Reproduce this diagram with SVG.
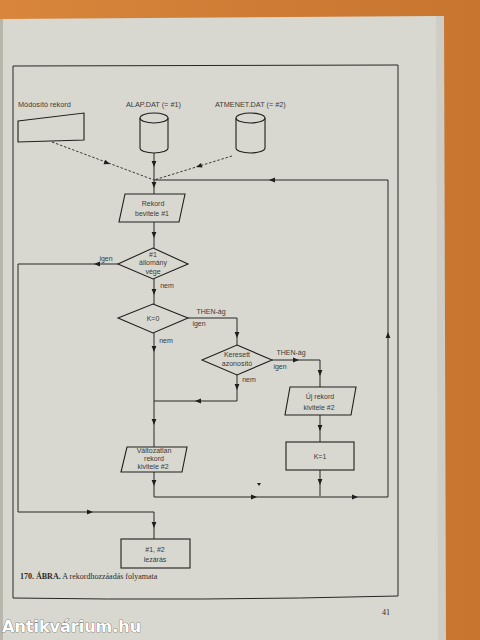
<svg xmlns="http://www.w3.org/2000/svg" width="480" height="640" viewBox="0 0 480 640">
<defs>
<linearGradient id="wood" x1="0" y1="0" x2="1" y2="0">
<stop offset="0" stop-color="#d9863c"/><stop offset="0.5" stop-color="#cf7d36"/><stop offset="1" stop-color="#c8762f"/>
</linearGradient>
<path id="ah" d="M0,0 L-6,-2.4 L-6,2.4 Z"/>
</defs>
<style>
.ln{fill:none;stroke:#262626;stroke-width:1}
.ds{fill:none;stroke:#262626;stroke-width:0.9;stroke-dasharray:2.5 1.8}
.sh{fill:none;stroke:#1e1e1e;stroke-width:1.1}
.ar{fill:#1e1e1e}
.t{font-family:"Liberation Sans",Arial,sans-serif;font-size:7px;fill:#3a3a3a;text-anchor:middle}
.tl{font-family:"Liberation Sans",Arial,sans-serif;font-size:7.3px;fill:#3a3a3a}
.cap{font-family:"Liberation Serif","Times New Roman",serif;font-size:8px;fill:#2a2a2a}
</style>
<rect x="0" y="0" width="480" height="640" fill="url(#wood)"/>
<path d="M3,19 L438,16 L440,640 L3,640 Z" fill="#d9d8d0"/>
<path d="M436,16 L444,16 L446,640 L438,640 Z" fill="#cfcdc5"/>
<rect x="0" y="19" width="3" height="621" fill="#b9b6ac"/>
<path d="M13,66 L398,65 L398,596 Q200,601 13,598 Z" class="ln"/>

<g id="connectors">
<path class="ds" d="M52,142 L154,180"/>
<use href="#ah" class="ar" transform="translate(110,164) rotate(20.4)"/>
<path class="ds" d="M232,156 L154,180"/>
<use href="#ah" class="ar" transform="translate(196,167) rotate(163)"/>
<path class="ln" d="M154,153 L154,194"/>
<use href="#ah" class="ar" transform="translate(154,167) rotate(90)"/>
<use href="#ah" class="ar" transform="translate(154,188) rotate(90)"/>
<path class="ln" d="M388,497 L388,180 L154,180"/>
<use href="#ah" class="ar" transform="translate(388,332) rotate(-90)"/>
<use href="#ah" class="ar" transform="translate(269,180) rotate(180)"/>
<path class="ln" d="M154,222 L154,248"/>
<use href="#ah" class="ar" transform="translate(154,238) rotate(90)"/>
<path class="ln" d="M118,264 L18,264 L18,512 L154,512 L154,539"/>
<use href="#ah" class="ar" transform="translate(94,264) rotate(180)"/>
<use href="#ah" class="ar" transform="translate(93,512)"/>
<use href="#ah" class="ar" transform="translate(154,528) rotate(90)"/>
<path class="ln" d="M154,279 L154,304"/>
<use href="#ah" class="ar" transform="translate(154,295) rotate(90)"/>
<path class="ln" d="M188,318 L237,318 L237,345"/>
<use href="#ah" class="ar" transform="translate(237,338) rotate(90)"/>
<path class="ln" d="M154,333 L154,447"/>
<use href="#ah" class="ar" transform="translate(154,352) rotate(90)"/>
<use href="#ah" class="ar" transform="translate(154,425) rotate(90)"/>
<path class="ln" d="M272,360 L320,360 L320,387"/>
<use href="#ah" class="ar" transform="translate(299,360)"/>
<use href="#ah" class="ar" transform="translate(320,376) rotate(90)"/>
<path class="ln" d="M237,375 L237,401 L154,401"/>
<use href="#ah" class="ar" transform="translate(237,390) rotate(90)"/>
<use href="#ah" class="ar" transform="translate(195,401) rotate(180)"/>
<path class="ln" d="M320,415 L320,442"/>
<use href="#ah" class="ar" transform="translate(320,431) rotate(90)"/>
<path class="ln" d="M320,470 L320,496"/>
<use href="#ah" class="ar" transform="translate(320,485) rotate(90)"/>
<path class="ln" d="M154,472 L154,497 L388,497"/>
<use href="#ah" class="ar" transform="translate(154,486) rotate(90)"/>
<use href="#ah" class="ar" transform="translate(257,497)"/>
<use href="#ah" class="ar" transform="translate(358,497)"/>
<path class="ar" d="M257,483 L261,483 L259,486 Z"/>
</g>

<g id="modosito">
<text class="tl" x="18" y="107">Módosító rekord</text>
<path class="sh" d="M18,121 L84,113 L84,140 L18,142 Z"/>
</g>
<g id="alapdat">
<text class="tl" x="126" y="107">ALAP.DAT (= #1)</text>
<path class="sh" d="M140,118 L140,148 A14,5 0 0 0 168,148 L168,118"/>
<ellipse class="sh" cx="154" cy="118" rx="14" ry="5"/>
</g>
<g id="atmenetdat">
<text class="tl" x="215" y="107">ATMENET.DAT (= #2)</text>
<path class="sh" d="M236,118 L236,148 A14.5,5 0 0 0 265,148 L265,118"/>
<ellipse class="sh" cx="250.5" cy="118" rx="14.5" ry="5"/>
</g>
<g id="bevitel1">
<path class="sh" d="M125,194 L185,194 L179,222 L119,222 Z"/>
<text class="t" x="153" y="206">Rekord</text>
<text class="t" x="152" y="216">bevitele #1</text>
</g>
<g id="allomanyvege">
<path class="sh" d="M153,248 L188,264 L153,279 L118,264 Z"/>
<text class="t" x="153" y="257">#1</text>
<text class="t" x="153" y="265">állomány</text>
<text class="t" x="153" y="274">vége</text>
<text class="t" x="106" y="261">igen</text>
<text class="t" x="167" y="288">nem</text>
</g>
<g id="k0">
<path class="sh" d="M153,304 L188,318 L153,333 L118,318 Z"/>
<text class="t" x="153" y="321">K=0</text>
<text class="t" x="211" y="314">THEN-ág</text>
<text class="t" x="199" y="326">igen</text>
<text class="t" x="166" y="343">nem</text>
</g>
<g id="keresett">
<path class="sh" d="M237,345 L272,360 L237,375 L202,360 Z"/>
<text class="t" x="237" y="357">Keresett</text>
<text class="t" x="237" y="366">azonosító</text>
<text class="t" x="291" y="355">THEN-ág</text>
<text class="t" x="280" y="369">igen</text>
<text class="t" x="249" y="382">nem</text>
</g>
<g id="ujrekord">
<path class="sh" d="M290,387 L356,387 L351,415 L285,415 Z"/>
<text class="t" x="320" y="399">Új rekord</text>
<text class="t" x="319" y="410">kivitele #2</text>
</g>
<g id="k1">
<rect class="sh" x="286" y="442" width="68" height="28"/>
<text class="t" x="320" y="459">K=1</text>
</g>
<g id="valtozatlan">
<path class="sh" d="M127,447 L187,447 L182,472 L121,472 Z"/>
<text class="t" x="154" y="453">Változatlan</text>
<text class="t" x="154" y="461">rekord</text>
<text class="t" x="153" y="469">kivitele #2</text>
</g>
<g id="lezaras">
<rect class="sh" x="121" y="539" width="69" height="29"/>
<text class="t" x="155" y="552">#1,  #2</text>
<text class="t" x="155" y="562">lezárás</text>
</g>

<text class="cap" x="20" y="579"><tspan font-weight="bold">170. ÁBRA.</tspan> A rekordhozzáadás folyamata</text>
<text class="cap" x="382" y="615" font-size="9">41</text>
<text x="2" y="632" font-family="'DejaVu Sans',sans-serif" font-weight="bold" font-size="16" fill="#ffffff" stroke="#3a3a3a" stroke-width="0.6" paint-order="stroke">Antikvárium.hu</text>
</svg>
